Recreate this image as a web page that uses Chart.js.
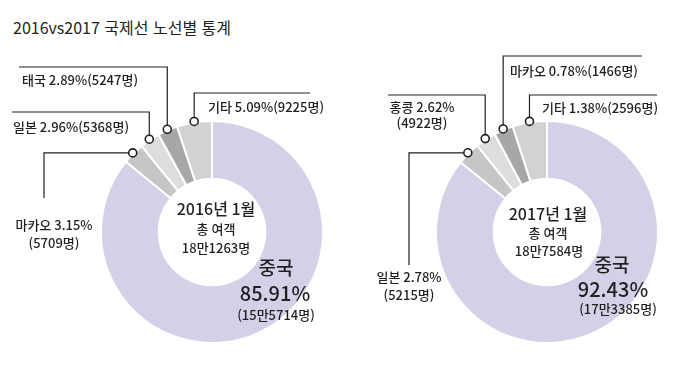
<!DOCTYPE html>
<html lang="ko">
<head>
<meta charset="utf-8">
<script src="https://cdn.jsdelivr.net/npm/chart.js@4/dist/chart.umd.min.js"></script>
<style>
  body { margin: 0; background: #fff; }
  #wrap { position: relative; width: 681px; height: 377px; overflow: hidden; }
  h1 {
    position: absolute; left: 13px; top: 17px; margin: 0;
    font: 400 16px/20px "Noto Sans CJK KR", sans-serif; color: #231f20;
  }
  canvas { position: absolute; top: 0; }
</style>
</head>
<body>
<div id="wrap">
  <h1>2016vs2017 국제선 노선별 통계</h1>
  <canvas id="c2016" width="340" height="377" style="left:0"></canvas>
  <canvas id="c2017" width="341" height="377" style="left:340px"></canvas>
</div>
<script>
// 2016년 1월 (clockwise from top)
const categories2016 = ['중국', '마카오', '일본', '태국', '기타'];
const share2016 = [85.91, 3.15, 2.96, 2.89, 5.09];
const people2016 = ['15만5714명', '5709명', '5368명', '5247명', '9225명'];
const total2016 = '18만1263명';

// 2017년 1월 (clockwise from top)
const categories2017 = ['중국', '일본', '홍콩', '마카오', '기타'];
const share2017 = [92.43, 2.78, 2.62, 0.78, 1.38];
// the original graphic does not draw 2017 to scale; slice sizes as drawn
const slice2017 = [85.8, 3.4, 3.0, 2.8, 5.0];
const people2017 = ['17만3385명', '5215명', '4922명', '1466명', '2596명'];
const total2017 = '18만7584명';

const sliceColors = ['#d3d1e7', '#c5c6c7', '#dcdddd', '#a6a7a9', '#d1d2d3'];
const ink = '#231f20';
const FONT = '"Noto Sans CJK KR", sans-serif';

const label = (cats, shares, people, i) => `${cats[i]} ${shares[i].toFixed(2)}%(${people[i]})`;

// leader lines + text drawn around the doughnut
const calloutPlugin = {
  id: 'callouts',
  afterDatasetsDraw(chart, args, opts) {
    const ctx = chart.ctx;
    const meta = chart.getDatasetMeta(0);
    ctx.save();
    opts.items.forEach(item => {
      const p = meta.data[item.index].getProps(['x', 'y', 'startAngle', 'endAngle', 'outerRadius'], true);
      const mid = (p.startAngle + p.endAngle) / 2;
      const r = p.outerRadius + 1;
      const mx = p.x + Math.cos(mid) * r;
      const my = p.y + Math.sin(mid) * r;

      ctx.strokeStyle = ink;
      ctx.lineWidth = 1.2;
      ctx.beginPath();
      ctx.moveTo(mx, my);
      item.path.forEach(([x, y]) => ctx.lineTo(x === null ? mx : x, y === null ? my : y));
      ctx.stroke();

      ctx.beginPath();
      ctx.arc(mx, my, 4, 0, Math.PI * 2);
      ctx.fillStyle = '#fff';
      ctx.fill();
      ctx.lineWidth = 1.6;
      ctx.stroke();
    });

    ctx.fillStyle = ink;
    ctx.textBaseline = 'middle';
    opts.texts.forEach(t => {
      ctx.font = `500 ${t.size || 13}px ${FONT}`;
      ctx.textAlign = t.align || 'left';
      ctx.fillText(t.t, t.x, t.y);
    });
    ctx.restore();
  }
};

function makeChart(id, values, padding, callouts) {
  return new Chart(document.getElementById(id), {
    type: 'doughnut',
    data: {
      labels: callouts.labels,
      datasets: [{
        data: values,
        backgroundColor: sliceColors,
        borderColor: '#fff',
        borderWidth: 2,
        hoverOffset: 0
      }]
    },
    options: {
      responsive: false,
      animation: false,
      cutout: '48%',
      layout: { padding },
      events: [],
      plugins: {
        legend: { display: false },
        tooltip: { enabled: false },
        callouts
      }
    },
    plugins: [calloutPlugin]
  });
}

makeChart('c2016', share2016, { left: 100, right: 16, top: 120, bottom: 33 }, {
  labels: categories2016,
  items: [
    { index: 4, path: [[null, 93], [310, 93]] },
    { index: 3, path: [[null, 67], [19, 67]] },
    { index: 2, path: [[null, 112], [12, 112]] },
    { index: 1, path: [[44, null], [44, 198]] }
  ],
  texts: [
    { t: label(categories2016, share2016, people2016, 4), x: 208, y: 107 },
    { t: label(categories2016, share2016, people2016, 3), x: 22, y: 80 },
    { t: label(categories2016, share2016, people2016, 2), x: 13, y: 127 },
    { t: `${categories2016[1]} ${share2016[1].toFixed(2)}%`, x: 54, y: 225, align: 'center' },
    { t: `(${people2016[1]})`, x: 54, y: 243, align: 'center' },
    { t: '2016년 1월', x: 216, y: 209, size: 16, align: 'center' },
    { t: '총 여객', x: 216, y: 229, align: 'center' },
    { t: total2016, x: 216, y: 248, align: 'center' },
    { t: categories2016[0], x: 276, y: 268, size: 19, align: 'center' },
    { t: `${share2016[0].toFixed(2)}%`, x: 275, y: 293, size: 20, align: 'center' },
    { t: `(${people2016[0]})`, x: 276, y: 315, align: 'center' }
  ]
});

makeChart('c2017', slice2017, { left: 95, right: 22, top: 120, bottom: 33 }, {
  labels: categories2017,
  items: [
    { index: 4, path: [[null, 95], [317, 95]] },
    { index: 3, path: [[null, 56], [302, 56]] },
    { index: 2, path: [[null, 95], [48, 95]] },
    { index: 1, path: [[69, null], [69, 265]] }
  ],
  texts: [
    { t: label(categories2017, share2017, people2017, 4), x: 202, y: 108 },
    { t: label(categories2017, share2017, people2017, 3), x: 170, y: 71 },
    { t: `${categories2017[2]} ${share2017[2].toFixed(2)}%`, x: 82, y: 107, align: 'center' },
    { t: `(${people2017[2]})`, x: 82, y: 123, align: 'center' },
    { t: `${categories2017[1]} ${share2017[1].toFixed(2)}%`, x: 69, y: 277, align: 'center' },
    { t: `(${people2017[1]})`, x: 69, y: 295, align: 'center' },
    { t: '2017년 1월', x: 208, y: 214, size: 16, align: 'center' },
    { t: '총 여객', x: 208, y: 233, align: 'center' },
    { t: total2017, x: 209, y: 251, align: 'center' },
    { t: categories2017[0], x: 272, y: 265, size: 19, align: 'center' },
    { t: `${share2017[0].toFixed(2)}%`, x: 273, y: 289, size: 20, align: 'center' },
    { t: `(${people2017[0]})`, x: 278, y: 309, align: 'center' }
  ]
});
</script>
</body>
</html>
